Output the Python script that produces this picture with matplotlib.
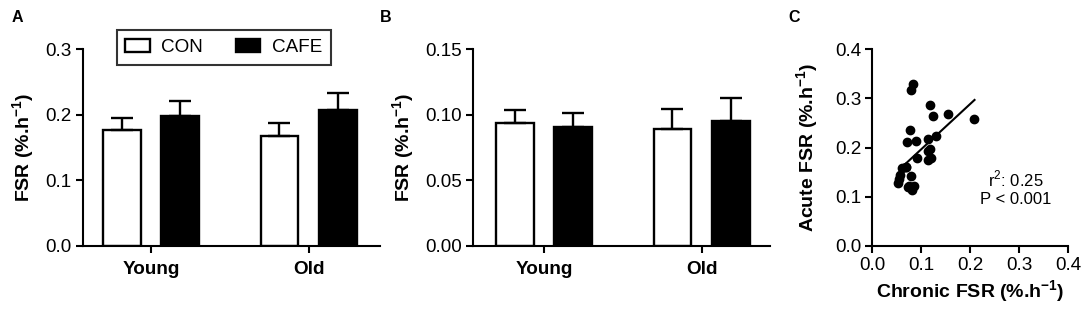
import numpy as np
import matplotlib
matplotlib.use("Agg")
import matplotlib.pyplot as plt

# -----------------------------
# DATA
# -----------------------------
groups = ["Young", "Old"]

# panel A - FSR (%.h-1), mean and upper SEM
a_con = [0.177, 0.167]
a_con_err = [0.018, 0.021]
a_cafe = [0.199, 0.208]
a_cafe_err = [0.022, 0.025]

# panel B
b_con = [0.094, 0.089]
b_con_err = [0.0095, 0.0153]
b_cafe = [0.091, 0.095]
b_cafe_err = [0.0103, 0.0179]

# panel C - chronic vs acute FSR
chronic_fsr = [0.084, 0.079, 0.118, 0.124, 0.154, 0.207, 0.077, 0.070, 0.089,
               0.113, 0.130, 0.113, 0.117, 0.091, 0.113, 0.120, 0.068, 0.060,
               0.069, 0.057, 0.079, 0.055, 0.053, 0.076, 0.085, 0.074, 0.082]
acute_fsr = [0.329, 0.317, 0.287, 0.264, 0.268, 0.259, 0.236, 0.211, 0.214,
             0.217, 0.224, 0.194, 0.197, 0.178, 0.175, 0.178, 0.161, 0.158,
             0.160, 0.144, 0.142, 0.136, 0.129, 0.123, 0.122, 0.119, 0.113]
fit_x = [0.070, 0.209]
fit_y = [0.169, 0.297]
stats_text = "r$^2$: 0.25\nP < 0.001"

# -----------------------------
# STYLE
# -----------------------------
plt.rcParams["font.family"] = ["Liberation Sans", "DejaVu Sans"]
plt.rcParams["mathtext.fontset"] = "custom"
plt.rcParams["mathtext.rm"] = "Liberation Sans"
plt.rcParams["mathtext.bf"] = "Liberation Sans:bold"
plt.rcParams["axes.linewidth"] = 1.5

FS = 13.6
ylab = r"FSR (%.h$^{\mathbf{-1}}$)"


def style_axes(ax):
    ax.spines["top"].set_visible(False)
    ax.spines["right"].set_visible(False)
    ax.tick_params(axis="both", direction="out", length=5, width=1.5,
                   labelsize=FS, pad=3, colors="black")


def bar_panel(ax, con, con_err, cafe, cafe_err, ylim, yticks, yticklabels, xlim):
    x = np.arange(len(groups))
    off = 0.186
    w = 0.24
    ekw = dict(elinewidth=1.7, capthick=1.7, ecolor="black")
    b1 = ax.bar(x - off, con, width=w, color="white", edgecolor="black",
                linewidth=1.7, yerr=[np.zeros(len(con)), con_err],
                capsize=7.9, error_kw=ekw, label="CON")
    b2 = ax.bar(x + off, cafe, width=w, color="black", edgecolor="black",
                linewidth=1.7, yerr=[np.zeros(len(cafe)), cafe_err],
                capsize=7.9, error_kw=ekw, label="CAFE")
    ax.set_xlim(*xlim)
    ax.set_ylim(*ylim)
    ax.set_xticks(x)
    ax.set_xticklabels(groups, fontweight="bold")
    ax.set_yticks(yticks)
    ax.set_yticklabels(yticklabels)
    style_axes(ax)
    ax.tick_params(axis="x", pad=5.5)
    ax.set_ylabel(ylab, fontsize=FS + 0.4, fontweight="bold")
    return b1, b2


fig = plt.figure(figsize=(10.84, 3.10), dpi=100)
axA = fig.add_axes([0.0763, 0.2065, 0.2740, 0.6345])
axB = fig.add_axes([0.4361, 0.2065, 0.2740, 0.6345])
axC = fig.add_axes([0.8047, 0.2065, 0.1805, 0.6345])

# -----------------------------
# PANEL A
# -----------------------------
h1, h2 = bar_panel(axA, a_con, a_con_err, a_cafe, a_cafe_err,
                   (0, 0.3), [0, 0.1, 0.2, 0.3], ["0.0", "0.1", "0.2", "0.3"],
                   (-0.432, 1.449))
axA.yaxis.set_label_coords(-0.154, 0.5)
leg = axA.legend([h1, h2], ["CON", "CAFE"], ncol=2, loc="upper left",
                 bbox_to_anchor=(116.7 / 1084, 1 - 30 / 310),
                 bbox_transform=fig.transFigure, borderaxespad=0,
                 frameon=True, fancybox=False, edgecolor="black",
                 fontsize=FS, handlelength=1.3, handleheight=0.75,
                 handletextpad=0.6, columnspacing=1.75, borderpad=0.45)
leg.get_frame().set_linewidth(1.5)

# -----------------------------
# PANEL B
# -----------------------------
bar_panel(axB, b_con, b_con_err, b_cafe, b_cafe_err,
          (0, 0.15), [0, 0.05, 0.10, 0.15], ["0.00", "0.05", "0.10", "0.15"],
          (-0.451, 1.43))
axB.yaxis.set_label_coords(-0.1875, 0.5)

# -----------------------------
# PANEL C
# -----------------------------
axC.scatter(chronic_fsr, acute_fsr, s=36, color="black", zorder=3, clip_on=False)
axC.plot(fit_x, fit_y, color="black", linewidth=1.5)
axC.set_xlim(0, 0.4)
axC.set_ylim(0, 0.4)
axC.set_xticks([0, 0.1, 0.2, 0.3, 0.4])
axC.set_xticklabels(["0.0", "0.1", "0.2", "0.3", "0.4"])
axC.set_yticks([0, 0.1, 0.2, 0.3, 0.4])
axC.set_yticklabels(["0.0", "0.1", "0.2", "0.3", "0.4"])
style_axes(axC)
axC.set_xlabel(r"Chronic FSR (%.h$^{\mathbf{-1}}$)", fontsize=FS + 0.4,
               fontweight="bold", labelpad=3)
axC.set_ylabel(r"Acute FSR (%.h$^{\mathbf{-1}}$)", fontsize=FS + 0.4,
               fontweight="bold")
axC.yaxis.set_label_coords(-0.262, 0.5)
axC.text(0.294, 0.118, stats_text, fontsize=12, ha="center", va="center",
         multialignment="center")

# panel letters
for lab, px in [("A", 17), ("B", 386), ("C", 794)]:
    fig.text(px / 1084, 1 - 17 / 310, lab, fontsize=11.5, fontweight="bold",
             ha="center", va="center")

fig.savefig("out.png", dpi=100)
